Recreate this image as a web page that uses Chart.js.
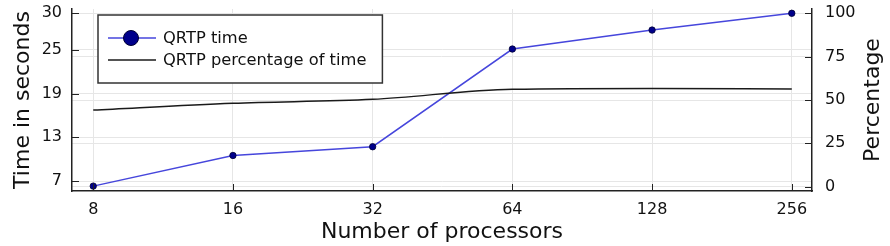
<!DOCTYPE html>
<html>
<head>
<meta charset="utf-8">
<script src="https://cdn.jsdelivr.net/npm/chart.js@4.4.1/dist/chart.umd.min.js"></script>
<style>
    html, body { margin: 0; padding: 0; background: #fff; }
    #wrap { width: 890px; height: 246px; }
</style>
</head>
<body>
<div id="wrap"><canvas id="qrtpChart"></canvas></div>
<script>
// Chart data
const processors = [8, 16, 32, 64, 128, 256];
const qrtpTime = [6.3, 10.5, 11.7, 25.1, 27.7, 30.0];
const qrtpPercentage = [44.2, 48.1, 50.4, 56.2, 56.7, 56.3];
const timeTicks = [7, 13, 19, 25, 30];
const percentTicks = [0, 25, 50, 75, 100];
const seriesNames = ['QRTP time', 'QRTP percentage of time'];

const FONT = "'DejaVu Sans', sans-serif";
const GRID = '#e6e6e6';
const AXIS = '#222';

// Short tick marks pointing into the plot, like the original
const innerTicks = {
    id: 'innerTicks',
    afterDatasetsDraw(chart) {
        const ctx = chart.ctx;
        const { x, yTime, yPct } = chart.scales;
        const len = 7;
        ctx.save();
        ctx.strokeStyle = AXIS;
        ctx.lineWidth = 1;
        ctx.beginPath();
        x.ticks.forEach(t => {
            const px = Math.round(x.getPixelForValue(t.value)) + 0.5;
            ctx.moveTo(px, x.top);
            ctx.lineTo(px, x.top - len);
        });
        yTime.ticks.forEach(t => {
            const py = Math.round(yTime.getPixelForValue(t.value)) + 0.5;
            ctx.moveTo(yTime.right, py);
            ctx.lineTo(yTime.right + len, py);
        });
        yPct.ticks.forEach(t => {
            const py = Math.round(yPct.getPixelForValue(t.value)) + 0.5;
            ctx.moveTo(yPct.left, py);
            ctx.lineTo(yPct.left - len, py);
        });
        ctx.stroke();
        ctx.restore();
    }
};

// Right axis title reads bottom-to-top in the original
const rightTitle = {
    id: 'rightTitle',
    afterDraw(chart) {
        const ctx = chart.ctx;
        const s = chart.scales.yPct;
        ctx.save();
        ctx.translate(s.right - 17, (s.top + s.bottom) / 2);
        ctx.rotate(-Math.PI / 2);
        ctx.font = '22px ' + FONT;
        ctx.fillStyle = '#111';
        ctx.textAlign = 'center';
        ctx.textBaseline = 'middle';
        ctx.fillText('Percentage', 0, 0);
        ctx.restore();
    }
};

// Boxed legend inside the plot area
const boxLegend = {
    id: 'boxLegend',
    afterDraw(chart) {
        const ctx = chart.ctx;
        const area = chart.chartArea;
        const left = area.left + 26, top = area.top + 6;
        const rowH = 22;
        ctx.save();
        ctx.font = '16.3px ' + FONT;
        const textX = left + 65;
        const widest = Math.max(...chart.data.datasets.map(d => ctx.measureText(d.label).width));
        const w = textX - left + widest + 16;
        const h = 68;
        ctx.fillStyle = '#fff';
        ctx.fillRect(left, top, w, h);
        ctx.strokeStyle = '#333';
        ctx.lineWidth = 1.5;
        ctx.strokeRect(left, top, w, h);

        chart.data.datasets.forEach((d, i) => {
            const y = top + 23 + i * rowH;
            ctx.strokeStyle = d.borderColor;
            ctx.lineWidth = d.borderWidth;
            ctx.beginPath();
            ctx.moveTo(left + 10, y);
            ctx.lineTo(left + 58, y);
            ctx.stroke();
            if (d.pointRadius > 0) {
                ctx.beginPath();
                ctx.arc(left + 33, y, 7.5, 0, Math.PI * 2);
                ctx.fillStyle = d.pointBackgroundColor;
                ctx.fill();
                ctx.lineWidth = 1;
                ctx.strokeStyle = d.pointBorderColor;
                ctx.stroke();
            }
            ctx.fillStyle = '#111';
            ctx.textAlign = 'left';
            ctx.textBaseline = 'middle';
            ctx.fillText(d.label, textX, y + 1);
        });
        ctx.restore();
    }
};

// y axes: fixed width and no extra room for half label heights
function fixY(width) {
    return s => {
        s.width = width;
        s.paddingTop = 0;
        s.paddingBottom = 0;
    };
}

new Chart(document.getElementById('qrtpChart').getContext('2d'), {
    type: 'line',
    data: {
        datasets: [
            {
                label: seriesNames[0],
                data: processors.map((p, i) => ({ x: p, y: qrtpTime[i] })),
                yAxisID: 'yTime',
                borderColor: '#4646dc',
                borderWidth: 1.5,
                pointRadius: 3.2,
                pointBackgroundColor: '#00008b',
                pointBorderColor: '#000033',
                pointBorderWidth: 0.8,
                tension: 0,
                order: 1
            },
            {
                label: seriesNames[1],
                data: processors.map((p, i) => ({ x: p, y: qrtpPercentage[i] })),
                yAxisID: 'yPct',
                borderColor: '#1a1a1a',
                borderWidth: 1.5,
                pointRadius: 0,
                cubicInterpolationMode: 'monotone',
                order: 0
            }
        ]
    },
    options: {
        responsive: true,
        maintainAspectRatio: false,
        animation: false,
        layout: { padding: { top: 9, left: 0, right: 0, bottom: 0 } },
        plugins: {
            legend: { display: false },
            tooltip: { enabled: false }
        },
        scales: {
            x: {
                type: 'logarithmic',
                min: 7.2,
                max: 283,
                afterBuildTicks: s => { s.ticks = processors.map(v => ({ value: v })); },
                afterFit: s => { s.height = 55; s.paddingLeft = 0; s.paddingRight = 0; },
                grid: { color: GRID, drawTicks: false },
                border: { display: true, color: AXIS, width: 1.5 },
                ticks: {
                    padding: 9,
                    color: '#111',
                    font: { family: FONT, size: 16 },
                    maxRotation: 0,
                    callback: v => String(v)
                },
                title: {
                    display: true,
                    text: 'Number of processors',
                    color: '#111',
                    font: { family: FONT, size: 22 },
                    padding: { top: 0, bottom: 1 }
                }
            },
            yTime: {
                type: 'linear',
                position: 'left',
                min: 5.63,
                max: 30.59,
                afterBuildTicks: s => { s.ticks = timeTicks.map(v => ({ value: v })); },
                afterFit: fixY(72),
                grid: { color: GRID, drawTicks: false },
                border: { display: true, color: AXIS, width: 1.5 },
                ticks: {
                    padding: 10,
                    color: '#111',
                    font: { family: FONT, size: 16 }
                },
                title: {
                    display: true,
                    text: 'Time in seconds',
                    color: '#111',
                    font: { family: FONT, size: 22 },
                    padding: { top: 10, bottom: 0 }
                }
            },
            yPct: {
                type: 'linear',
                position: 'right',
                min: -2.5,
                max: 102.5,
                afterBuildTicks: s => { s.ticks = percentTicks.map(v => ({ value: v })); },
                afterFit: fixY(78),
                grid: { color: GRID, drawTicks: false },
                border: { display: true, color: AXIS, width: 1.5 },
                ticks: {
                    padding: 13,
                    color: '#111',
                    font: { family: FONT, size: 16 }
                }
            }
        }
    },
    plugins: [innerTicks, rightTitle, boxLegend]
});
</script>
</body>
</html>
